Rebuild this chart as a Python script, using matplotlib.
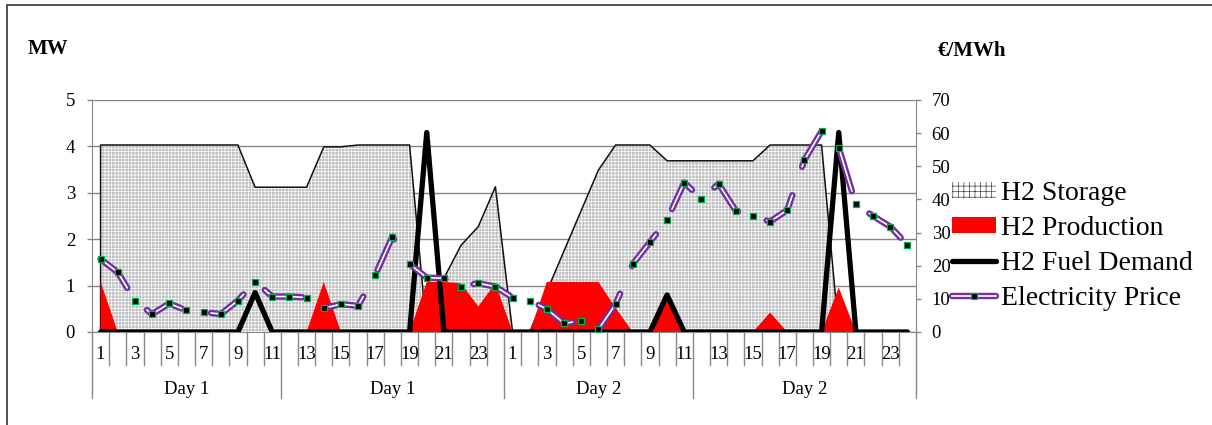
import matplotlib
matplotlib.use('Agg')
import matplotlib.pyplot as plt
import numpy as np
from matplotlib.lines import Line2D
from matplotlib.patches import Patch, Rectangle

plt.rcParams['font.family'] = ['Liberation Serif', 'DejaVu Serif']
plt.rcParams['hatch.linewidth'] = 0.5
plt.rcParams['lines.scale_dashes'] = False

# ---------------- data ----------------
hours = list(range(1, 25)) * 2
group_labels = ['Day 1', 'Day 1', 'Day 2', 'Day 2']
group_sizes = [11, 13, 11, 13]

storage = [4.03, 4.03, 4.03, 4.03, 4.03, 4.03, 4.03, 4.03, 4.03, 3.12,
           3.12, 3.12, 3.12, 3.99, 3.99, 4.03, 4.03, 4.03, 4.03, 0.0,
           1.16, 1.87, 2.27, 3.13,
           0.0, 0.0, 0.88, 1.75, 2.62, 3.49, 4.03, 4.03, 4.03, 3.69,
           3.69, 3.69, 3.69, 3.69, 3.69, 4.03, 4.03, 4.03, 4.03, 0.0,
           0.0, 0.0, 0.0, 0.0]
production = [1.08, 0, 0, 0, 0, 0, 0, 0, 0, 0,
              0, 0, 0, 1.08, 0, 0, 0, 0, 0, 1.08,
              1.08, 1.05, 0.55, 1.05,
              0, 0, 1.08, 1.08, 1.08, 1.08, 0.52, 0, 0, 0.8,
              0, 0, 0, 0, 0, 0.42, 0, 0, 0, 0.96,
              0, 0, 0, 0]
fuel_demand = [0, 0, 0, 0, 0, 0, 0, 0, 0, 0.85,
               0, 0, 0, 0, 0, 0, 0, 0, 0, 4.3,
               0, 0, 0, 0,
               0, 0, 0, 0, 0, 0, 0, 0, 0, 0.8,
               0, 0, 0, 0, 0, 0, 0, 0, 0, 4.3,
               0, 0, 0, 0]
price = [22.0, 18.0, 9.5, 5.4, 8.6, 6.5, 6.0, 5.4, 9.5, 15.2,
         10.7, 10.7, 10.4, 7.2, 8.4, 7.9, 17.2, 28.8, 20.5, 16.4,
         16.2, 13.7, 14.7, 13.7,
         10.4, 9.5, 6.9, 2.6, 3.4, 0.8, 8.4, 20.5, 27.1, 33.9,
         45.1, 40.2, 44.7, 36.6, 35.1, 33.3, 36.8, 51.9, 60.6, 55.6,
         38.5, 35.0, 31.8, 26.3]

# ---------------- figure ----------------
W, H = 1212, 425
fig = plt.figure(figsize=(W / 100, H / 100), dpi=100)
ax = fig.add_axes([92 / W, 1 - 332 / H, 824 / W, 232 / H])
ax2 = ax.twinx()

x = np.arange(len(hours))
grey = '#868686'

# storage area
ax.fill_between(x, storage, 0, facecolor='#bfbfbf', edgecolor='white',
                hatch='+++++', linewidth=0, zorder=1)
ax.plot(np.r_[x[0], x], np.r_[0, storage], color='#111111', lw=1.1, zorder=1.5)
# production area
ax.fill_between(x, production, 0, facecolor='#ff0000', linewidth=0, zorder=2)
# fuel demand
ax.plot(x, fuel_demand, color='black', lw=3.8, solid_joinstyle='round',
        solid_capstyle='round', zorder=3)

ax.set_xlim(-0.5, len(hours) - 0.5)
ax.set_ylim(0, 5)
ax.set_yticks(range(0, 6))
ax.yaxis.grid(True, color=grey, lw=1)
ax.set_axisbelow(True)
ax.set_xticks([])
ax.tick_params(axis='y', direction='out', length=3.6, width=1, color=grey,
               labelsize=13.5, pad=8.6)
for s in ['top', 'right']:
    ax.spines[s].set_visible(False)
for s in ['left', 'bottom']:
    ax.spines[s].set_color(grey)

# electricity price on secondary axis
ax2.plot(x, price, color='#7030a0', lw=4.6, dashes=(28.8, 21.6),
         dash_capstyle='round', solid_joinstyle='round', zorder=4)
ax2.plot(x, price, color='white', lw=1.2, dashes=(28.8, 21.6),
         dash_capstyle='round', zorder=5)
ax2.plot(x, price, ls='none', marker='s', ms=4.6, mfc='black', mec='#00b050',
         mew=0.9, zorder=6)
ax2.set_ylim(0, 70)
ax2.set_yticks(range(0, 80, 10))
ax2.tick_params(axis='y', direction='out', length=3.6, width=1, color=grey,
                labelsize=13.5, pad=7.7)
for s in ['top', 'left', 'bottom']:
    ax2.spines[s].set_visible(False)
ax2.spines['right'].set_color(grey)

# multi-level category axis
tr = ax.get_xaxis_transform()
y_row1 = -0.142
y_row2 = -0.284
group_edges = np.cumsum([0] + group_sizes) - 0.5
for b in np.arange(len(hours) + 1) - 0.5:
    long = np.any(np.isclose(b, group_edges))
    ax.plot([b, b], [0, y_row2 if long else y_row1], transform=tr,
            color=grey, lw=1, clip_on=False)
for i, h in enumerate(hours):
    if h % 2 == 1:
        ax.text(i, -0.099, str(h), transform=tr, ha='center', va='center',
                fontsize=13.5)
for k, lab in enumerate(group_labels):
    c = (group_edges[k] + group_edges[k + 1]) / 2
    ax.text(c, -0.246, lab, transform=tr, ha='center', va='center',
            fontsize=13.5)

# axis titles
fig.text(28 / W, 1 - 49 / H, 'MW', fontsize=15, fontweight='bold',
         ha='left', va='center')
fig.text(938 / W, 1 - 51 / H, '€/MWh', fontsize=15, fontweight='bold',
         ha='left', va='center')

# legend
h_storage = Patch(facecolor='white', edgecolor='#444444', hatch='+++', linewidth=0)
h_prod = Patch(facecolor='#ff0000', linewidth=0)
h_fuel = Line2D([], [], color='black', lw=3.8, solid_capstyle='round')
h_price = (Line2D([], [], color='#7030a0', lw=4.6, solid_capstyle='round'),
           Line2D([], [], color='white', lw=1.2),
           Line2D([], [], ls='none', marker='s', ms=4.6, mfc='black',
                  mec='#00b050', mew=0.9))
fig.legend([h_storage, h_prod, h_fuel, h_price],
           ['H2 Storage', 'H2 Production', 'H2 Fuel Demand', 'Electricity Price'],
           loc='upper left', bbox_to_anchor=(952 / W, 1 - 181 / H),
           frameon=False, fontsize=20, handlelength=1.58, handletextpad=0.18,
           handleheight=0.5, labelspacing=0.36, borderpad=0, borderaxespad=0)

# outer border (left and top visible)
fig.patches.append(Rectangle((7 / W, -0.1), 1.2, 1 - 5 / H + 0.1,
                             transform=fig.transFigure, fill=False,
                             edgecolor='#333333', lw=1.2))

fig.savefig('out.png', dpi=100)
